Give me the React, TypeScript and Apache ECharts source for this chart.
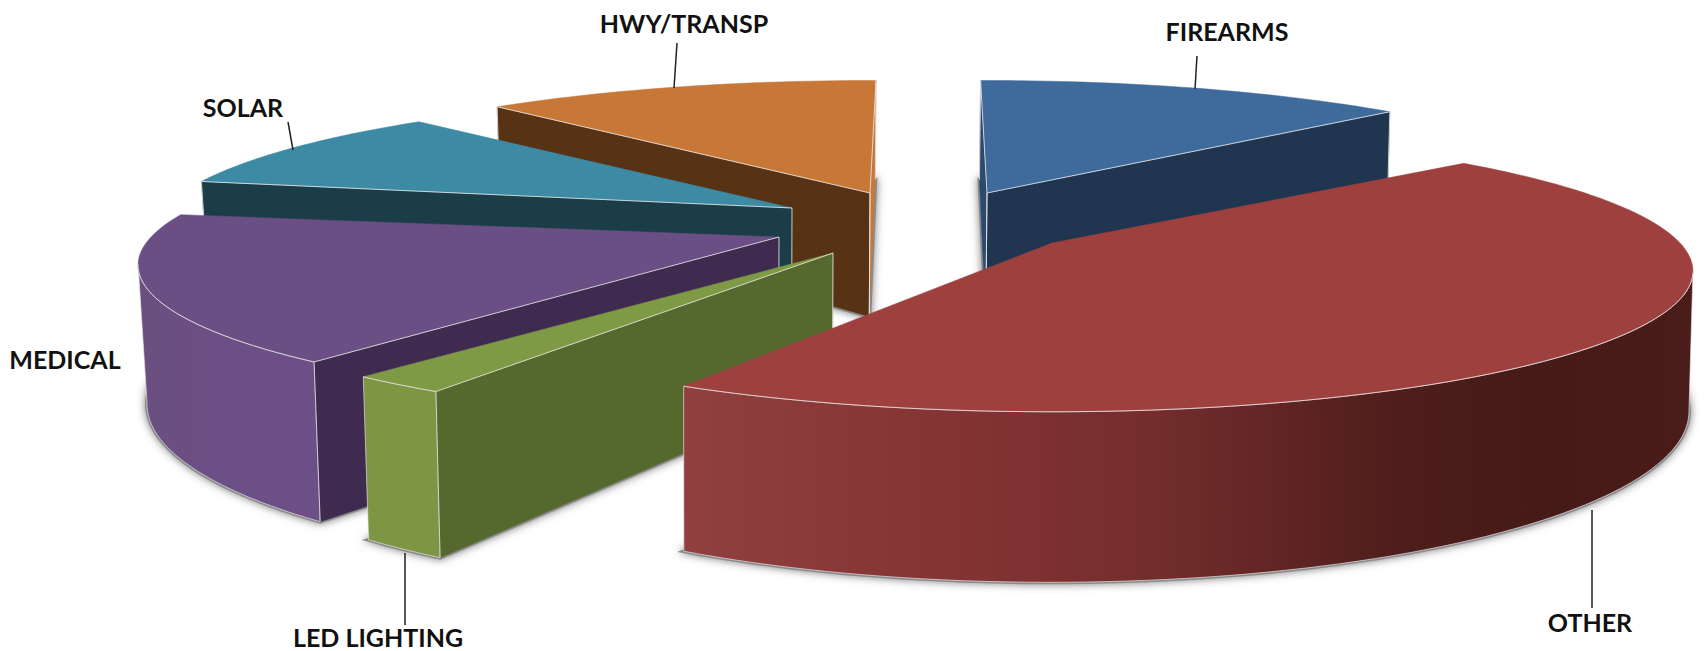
import React, { useEffect, useRef } from "react";
import * as echarts from "echarts";

const categories = ["FIREARMS", "OTHER", "LED LIGHTING", "MEDICAL", "SOLAR", "HWY/TRANSP"];
const shares = [13.2, 44.7, 2.1, 17.0, 9.8, 12.1];

const topColors = ["#3f6a9c", "#9e403e", "#7e9a45", "#6a4f84", "#3c8aa3", "#c77836"];
const startSide = ["#2a4a70", "#43201f", "#55692f", "#3f2b50", "#1a3d48", "#573215"];
const endSide = ["#1f3550", "#43201f", "#55692f", "#3f2b50", "#1a3d48", "#c77836"];
const wallStops: [number, string][][] = [
  [[0, "#1f3550"], [1, "#1f3550"]],
  [[0, "#914040"], [0.25, "#853434"], [0.45, "#752e2d"], [0.72, "#4d1d1b"], [0.85, "#451a18"], [1, "#4a1c1a"]],
  [[0, "#7e9643"], [1, "#7e9643"]],
  [[0, "#6a4f80"], [0.8, "#6d4f88"], [1, "#6b4f86"]],
  [[0, "#1a3d48"], [1, "#1a3d48"]],
  [[0, "#c77836"], [1, "#c77836"]],
];
const paintRank = [0, 5, 4, 3, 2, 1];
const centerX = [987, 1052, 833, 779, 792, 870];
const centerY = [193, 243, 253, 237, 208, 193];
// small per-slice angular correction (degrees) for the exploded view
const angleNudge = [-0.7, 0.5, 3.2, 2.66, 4.6, 4.62];

const labelX = [1227, 1590, 378, 65, 243, 684];
const labelY = [31, 622, 637, 359, 107, 23];
const leaders: number[][] = [
  [1197, 56, 1195, 89],
  [1592, 510, 1592, 608],
  [405, 553, 405, 625],
  [],
  [288, 122, 293, 150],
  [677, 43, 674, 88],
];

const RX = 628;
const RY = 135;
const PERSP = 0.2;
const DEG_PER_UNIT = 3.6;
const EDGE = "rgba(232,228,228,0.85)";

type P = [number, number];
const wallH = (y: number) => 82 + 0.215 * y;
const down = (p: P): P => [p[0] + (696 - p[0]) * (p[0] < 696 ? 0.016 : 0.004), p[1] + wallH(p[1])];
const project = (cx: number, cy: number, deg: number): P => {
  const a = (deg * Math.PI) / 180;
  const X = Math.sin(a);
  const Y = Math.cos(a);
  const w = 1 + PERSP * Y;
  return [cx + (RX * X) / w, cy - (RY * Y) / w];
};
const side = (a: P, b: P, q: P) => (b[0] - a[0]) * (q[1] - a[1]) - (b[1] - a[1]) * (q[0] - a[0]);

function renderSlice(params: any, api: any) {
  const i = params.dataIndex;
  let before = 0;
  for (let k = 0; k < i; k++) before += shares[k];
  const a0 = before * DEG_PER_UNIT + angleNudge[i];
  const a1 = a0 + api.value(1) * DEG_PER_UNIT;
  const c: P = [centerX[i], centerY[i]];
  const steps = Math.max(8, Math.round((a1 - a0) / 1.5));
  const arc: P[] = [];
  for (let s = 0; s <= steps; s++) arc.push(project(c[0], c[1], a0 + ((a1 - a0) * s) / steps));
  const mid = project(c[0], c[1], (a0 + a1) / 2);
  const rank = paintRank[i] * 10 + 1;
  const children: any[] = [];

  const footprint = [down(c), ...arc.map(down)];
  children.push({
    type: "polygon",
    z2: 0,
    shape: { points: footprint },
    style: { fill: "#8a8a8a", stroke: "#8a8a8a", lineWidth: 4, shadowBlur: 9, shadowColor: "rgba(90,90,90,0.8)" },
  });

  // front-facing run of the rim
  const front: P[] = [];
  for (let s = 0; s < arc.length; s++) {
    const movingLeft =
      (s < arc.length - 1 && arc[s + 1][0] < arc[s][0]) || (s > 0 && arc[s][0] < arc[s - 1][0]);
    if (movingLeft) front.push(arc[s]);
  }
  if (front.length > 1) {
    children.push({
      type: "polygon",
      z2: rank,
      shape: { points: [...front, ...front.slice().reverse().map(down)] },
      style: {
        fill: new echarts.graphic.LinearGradient(0, 0, 1, 0, wallStops[i].map(([offset, color]) => ({ offset, color }))),
        stroke: EDGE,
        lineWidth: 0.8,
      },
    });
  }
  // cut faces
  const cuts: { p: P; color: string }[] = [
    { p: arc[0], color: startSide[i] },
    { p: arc[arc.length - 1], color: endSide[i] },
  ];
  const lines: P[][] = [];
  cuts.forEach(({ p, color }) => {
    if (side(c, p, down(p)) * side(c, p, mid) < 0) {
      children.push({
        type: "polygon",
        z2: rank + 1,
        shape: { points: [c, p, down(p), down(c)] },
        style: { fill: color, stroke: color, lineWidth: 0.5 },
      });
      lines.push([c, p]);
      lines.push([p, down(p)]);
      lines.push([c, down(c)]);
    }
  });
  children.push({
    type: "polygon",
    z2: rank + 2,
    shape: { points: [c, ...arc] },
    style: { fill: topColors[i], stroke: topColors[i], lineWidth: 0.5 },
  });
  if (front.length > 1) lines.push(front);
  lines.forEach((pts) => {
    children.push({
      type: "polyline",
      z2: rank + 3,
      shape: { points: pts },
      style: { fill: "none", stroke: EDGE, lineWidth: 1 },
    });
  });
  return { type: "group", children };
}

export default function App() {
  const ref = useRef<HTMLDivElement>(null);
  useEffect(() => {
    document.body.style.margin = "0";
    const chart = echarts.init(ref.current!, undefined, { renderer: "svg" });
    const graphic: any[] = [];
    categories.forEach((name, i) => {
      graphic.push({
        type: "text",
        x: labelX[i],
        y: labelY[i],
        z: 10,
        style: {
          text: name,
          fill: "#111",
          font: 'bold 25px Lato, "Open Sans", sans-serif',
          textAlign: "center",
          textVerticalAlign: "middle",
        },
      });
      const l = leaders[i];
      if (l.length) {
        graphic.push({
          type: "line",
          z: 10,
          shape: { x1: l[0], y1: l[1], x2: l[2], y2: l[3] },
          style: { stroke: "#222", lineWidth: 1.5 },
        });
      }
    });
    chart.setOption({
      animation: false,
      backgroundColor: "#ffffff",
      graphic,
      series: [
        {
          type: "custom",
          coordinateSystem: "none",
          silent: true,
          renderItem: renderSlice,
          data: categories.map((name, i) => ({ name, value: [i, shares[i]] })),
        },
      ],
    });
    return () => chart.dispose();
  }, []);
  return <div ref={ref} style={{ position: "absolute", left: 0, top: 0, width: 1704, height: 651 }} />;
}
